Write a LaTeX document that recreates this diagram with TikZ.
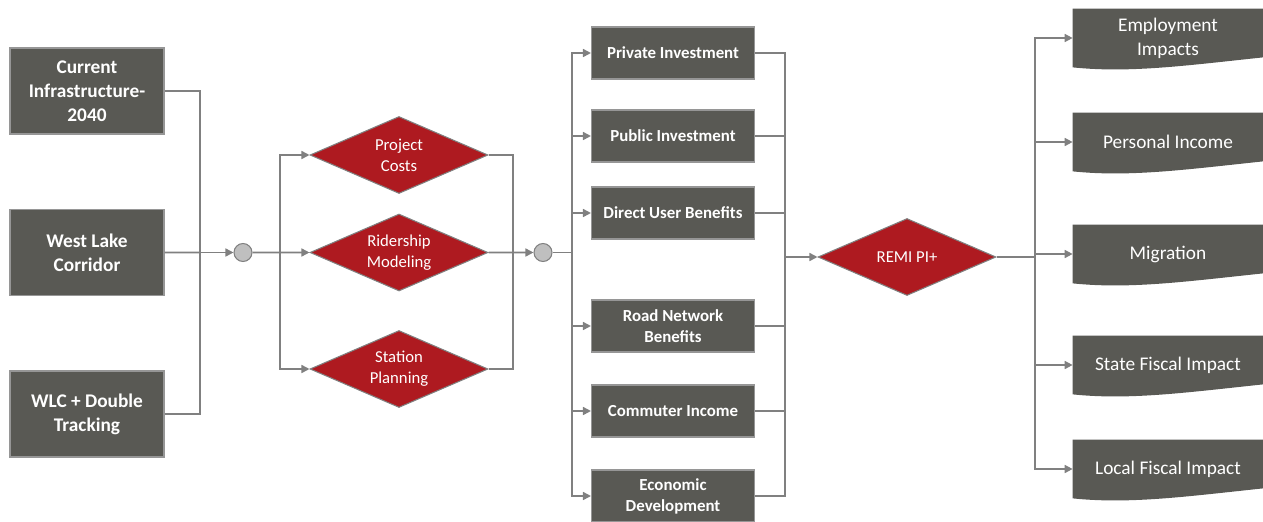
\documentclass[tikz,border=0pt]{standalone}
\usepackage{fontspec}
\setmainfont{Carlito}
\usetikzlibrary{positioning,shapes.geometric,arrows.meta,backgrounds}
\definecolor{boxgray}{RGB}{89,89,84}
\definecolor{boxedge}{RGB}{150,150,150}
\definecolor{remired}{RGB}{174,26,32}
\definecolor{linegray}{RGB}{128,128,128}
\definecolor{dotgray}{RGB}{191,191,191}

\begin{document}
\begin{tikzpicture}[
  node distance=3.23cm,
  inbox/.style={rectangle, draw=boxedge, fill=boxgray, text=white, line width=0.6pt,
    minimum width=3.08cm, minimum height=1.72cm, align=center,
    font=\fontsize{11}{13.6}\selectfont\bfseries},
  midbox/.style={rectangle, draw=boxedge, fill=boxgray, text=white, line width=0.6pt,
    minimum width=3.26cm, minimum height=1.04cm, align=center,
    font=\fontsize{9.6}{12}\selectfont\bfseries},
  outbox/.style={rectangle, text=white, minimum width=3.8cm, minimum height=1.16cm,
    align=center, font=\fontsize{11}{13.6}\selectfont},
  model/.style={diamond, draw=linegray, fill=remired, text=white, line width=0.6pt,
    aspect=2.3, inner sep=0pt, minimum width=3.56cm, minimum height=1.54cm,
    align=center, font=\fontsize{9.5}{11.9}\selectfont},
  dot/.style={circle, draw=linegray, fill=dotgray, line width=0.6pt,
    minimum size=0.36cm, inner sep=0pt},
  line/.style={draw=linegray, line width=0.9pt},
  arrow/.style={->, >={Triangle[length=1.6mm,width=1.6mm]}, draw=linegray, line width=0.9pt}
]
  \useasboundingbox (0,0) rectangle (25.26,-10.42);

  \node[inbox] at (1.74,-1.82) (cur) {Current\\Infrastructure-\\2040};
  \node[inbox, below of=cur] (wlk) {West Lake\\Corridor};
  \node[inbox, below of=wlk] (wlc) {WLC + Double\\Tracking};

  \node[dot] at (4.86,-5.05) (c1) {};
  \node[model] at (7.98,-3.10) (pc) {Project\\Costs};
  \node[model, below of=pc, node distance=1.95cm] (rid) {Ridership\\Modeling};
  \node[model, below of=rid, node distance=2.33cm] (sp) {Station\\Planning};
  \node[dot] at (10.86,-5.05) (c2) {};

  \node[midbox] at (13.46,-1.06) (priv) {Private Investment};
  \node[midbox, below of=priv, node distance=1.66cm] (pub) {Public Investment};
  \node[midbox, below of=pub, node distance=1.54cm] (dub) {Direct User Benefits};
  \node[midbox, below of=dub, node distance=2.26cm] (road) {Road Network\\Benefits};
  \node[midbox, below of=road, node distance=1.70cm] (comm) {Commuter Income};
  \node[midbox, below of=comm, node distance=1.70cm] (econ) {Economic\\Development};

  \node[model] at (18.14,-5.14) (remi) {REMI PI+};

  \node[outbox] at (23.36,-0.76) (emp) {Employment\\Impacts};
  \node[outbox, below of=emp, node distance=2.08cm] (pinc) {Personal Income};
  \node[outbox, below of=pinc, node distance=2.24cm] (mig) {Migration};
  \node[outbox, below of=mig, node distance=2.22cm] (sfi) {State Fiscal Impact};
  \node[outbox, below of=sfi, node distance=2.08cm] (lfi) {Local Fiscal Impact};

  \begin{pgfonlayer}{background}
    \foreach \n in {emp,pinc,mig,sfi,lfi}
      \fill[boxgray] (\n.north west) -- (\n.north east) -- ([yshift=0.2cm]\n.south east)
        .. controls ([xshift=-1.52cm,yshift=0.04cm]\n.south east)
        and ([xshift=1.14cm,yshift=-0.12cm]\n.south west) .. (\n.south west) -- cycle;
  \end{pgfonlayer}

  \coordinate (mrgA) at (4.0,-5.05);
  \coordinate (splA) at (5.6,-5.05);
  \coordinate (mrgB) at (10.26,-5.05);
  \coordinate (splB) at (11.44,-5.05);
  \coordinate (mrgC) at (15.70,-5.14);
  \coordinate (splC) at (20.70,-5.14);

  \draw[line] (cur.east) -| (mrgA);
  \draw[line] (wlc.east) -| (mrgA);
  \draw[line] (wlk.east) -- (mrgA);
  \draw[arrow] (mrgA) -- (c1);

  \draw[arrow] (c1) -- (rid);
  \draw[arrow] (splA) |- (pc.west);
  \draw[arrow] (splA) |- (sp.west);

  \draw[line] (pc.east) -| (mrgB);
  \draw[line] (sp.east) -| (mrgB);
  \draw[arrow] (rid) -- (c2);

  \draw[line] (c2) -- (splB);
  \foreach \n in {priv,pub,dub,road,comm,econ}
    \draw[arrow] (splB) |- (\n.west);
  \foreach \n in {priv,pub,dub,road,comm,econ}
    \draw[line] (\n.east) -| (mrgC);
  \draw[arrow] (mrgC) -- (remi);

  \draw[line] (remi) -- (splC);
  \foreach \n in {emp,pinc,mig,sfi,lfi}
    \draw[arrow] (splC) |- (\n.west);
\end{tikzpicture}
\end{document}
